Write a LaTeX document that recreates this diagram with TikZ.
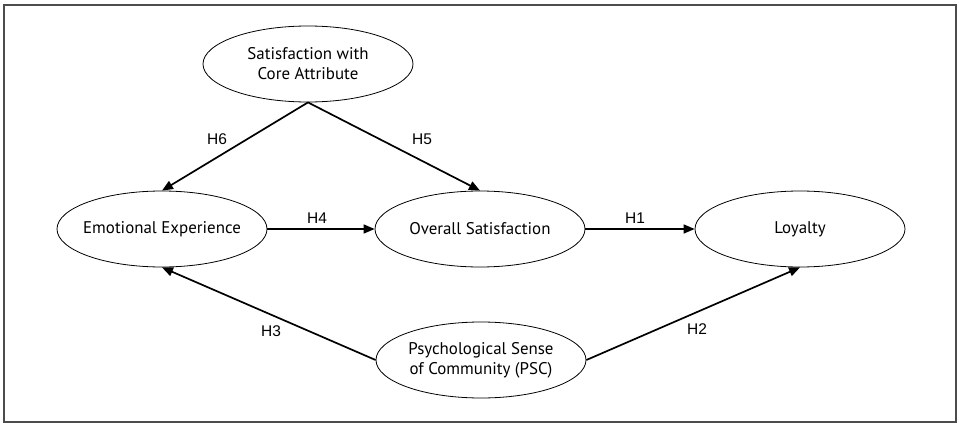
\documentclass[tikz,border=0pt]{standalone}
\usepackage{fontspec}
\setmainfont{PT Sans}
\newfontfamily\hlabelfont{Liberation Sans}
\usetikzlibrary{shapes.geometric,arrows.meta}

\begin{document}
\begin{tikzpicture}[x=1pt, y=-1pt,
    construct/.style={ellipse, draw, line width=0.8pt, minimum width=210pt, minimum height=76pt, inner xsep=-10pt, inner ysep=0pt, align=center, font=\fontsize{16.9}{20}\selectfont},
    path/.style={line width=1.7pt, -{Triangle[length=11pt,width=9pt]}},
    hyp/.style={font=\hlabelfont\fontsize{15.5}{18}\selectfont}]
\useasboundingbox (0,0) rectangle (959,423);
\draw[line width=1.8pt, gray!60!black] (4,5) rectangle (956,422);

\node[construct] (core) at (308,64) {Satisfaction with\\Core Attribute};
\node[construct] (emo)  at (162,229) {Emotional Experience};
\node[construct] (sat)  at (480,229) {Overall Satisfaction};
\node[construct] (loy)  at (800,229) {Loyalty};
\node[construct] (psc)  at (481,360) {Psychological Sense\\of Community (PSC)};

\draw[path] (core.south) -- (emo.north);
\draw[path] (core.south) -- (sat.north);
\draw[path] (emo) -- (sat);
\draw[path] (sat) -- (loy);
\draw[path] (psc.west) -- (emo.south);
\draw[path] (psc.east) -- (loy.south);

% hypothesis labels
\foreach \x/\y/\h in {635/218/H1, 697/329/H2, 271/331/H3, 317/218/H4, 422/139/H5, 217/139/H6} {
    \node[hyp] (\h) at (\x,\y) {\h};
}
\end{tikzpicture}
\end{document}
